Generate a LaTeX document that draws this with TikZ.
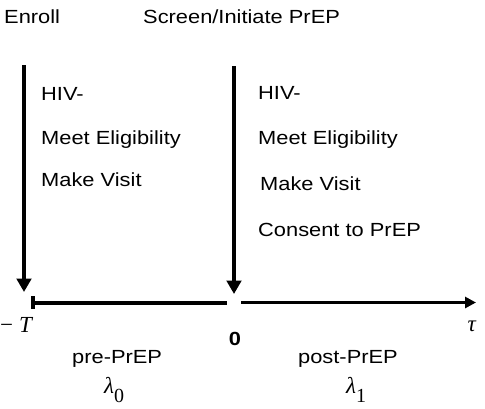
\documentclass[tikz,border=0pt]{standalone}
\usepackage{fontspec}
\setmainfont[FakeStretch=1.15]{Liberation Sans}
\newfontfamily\tmsfont{Liberation Serif}
\usetikzlibrary{arrows.meta}
\begin{document}
\begin{tikzpicture}[x=1pt,y=-1pt,
  lbl/.style={inner sep=0pt, anchor=base west, font=\fontsize{19}{20}\selectfont},
  mth/.style={inner sep=0pt, font=\tmsfont\fontsize{23}{23}\selectfont},
  downarrow/.style={line width=3.5pt, -{Triangle[width=14.5pt,length=13.5pt]}},
  axisarrow/.style={line width=3pt, -{Triangle[width=11pt,length=11pt]}},
  axisbar/.style={line width=4pt, {Bar[width=13pt,line width=4pt]}-}]
\useasboundingbox (0,0) rectangle (485,408);
% top labels
\node[lbl] (enroll) at (4,23) {Enroll};
\node[lbl] (screen) at (143,23) {Screen/Initiate PrEP};
% arrows
\coordinate (a1s) at (24,65);
\coordinate (a1e) at (24,292);
\coordinate (a2s) at (234,66);
\coordinate (a2e) at (234,294);
\draw[downarrow] (a1s) -- (a1e);
\draw[downarrow] (a2s) -- (a2e);
% left texts
\node[lbl] (hivL) at (41,100) {HIV-};
\node[lbl] (meetL) at (41,144) {Meet Eligibility};
\node[lbl] (makeL) at (41,186) {Make Visit};
% right texts
\node[lbl] (hivR) at (258,99) {HIV-};
\node[lbl] (meetR) at (258,144) {Meet Eligibility};
\node[lbl] (makeR) at (260,190) {Make Visit};
\node[lbl] (consR) at (258,236) {Consent to PrEP};
% axis
\coordinate (x0) at (31,302.5);
\coordinate (x1) at (227,302.5);
\coordinate (x2) at (241,302.5);
\coordinate (x3) at (476,302.5);
\draw[axisbar] (x0) -- (x1);
\draw[axisarrow] (x2) -- (x3);
% axis labels
\node[mth, anchor=base west] (mT) at (0,332) {−\hspace{6pt}\textit{T}};
\node[mth, anchor=base] (tau) at (472,331) {\textit{τ}};
\node[inner sep=0pt, anchor=base, font=\bfseries\fontsize{19}{20}\selectfont] (zero) at (235,345) {0};
\node[lbl] (pre) at (72,363) {pre-PrEP};
\node[lbl] (post) at (298,363) {post-PrEP};
\node[mth, anchor=base west] (l0) at (104,393) {\textit{λ}\raisebox{-9pt}{\fontsize{20}{20}\selectfont 0}};
\node[mth, anchor=base west] (l1) at (346,393) {\textit{λ}\raisebox{-9pt}{\fontsize{20}{20}\selectfont 1}};
\end{tikzpicture}
\end{document}
